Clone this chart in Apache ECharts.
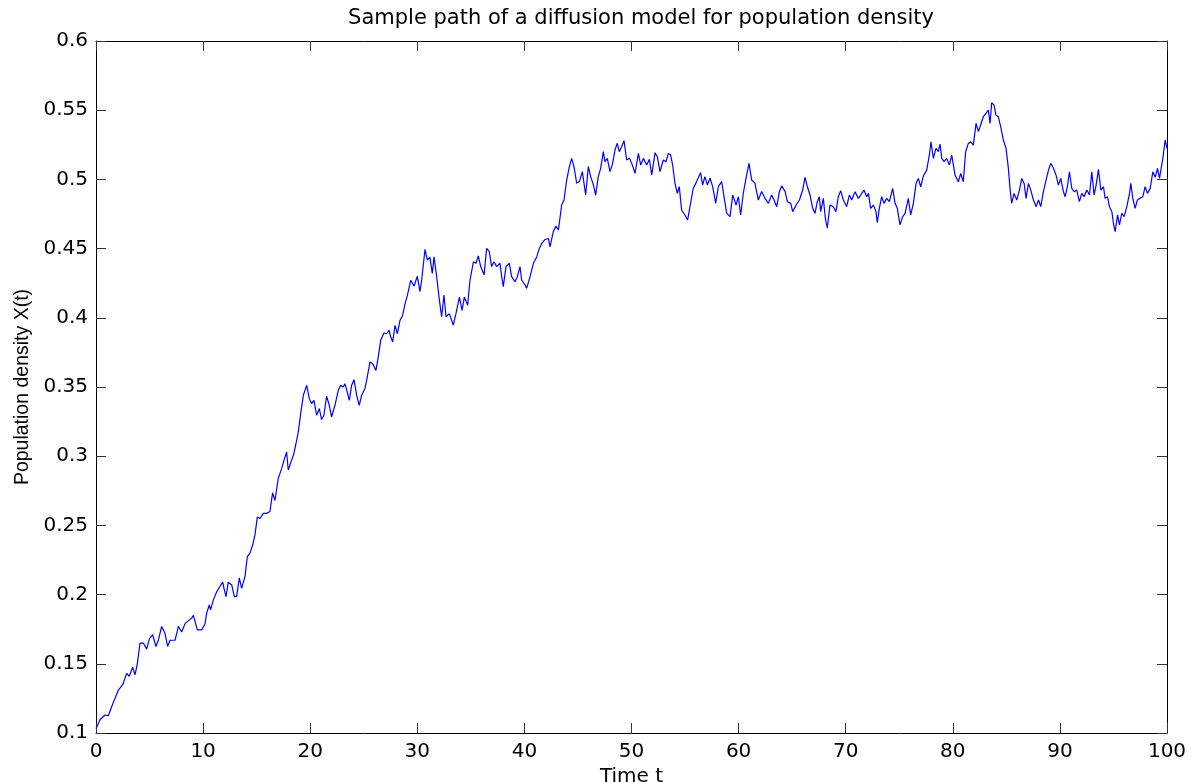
<!DOCTYPE html>
<html><head><meta charset="utf-8">
<script src="https://cdn.jsdelivr.net/npm/echarts/dist/echarts.min.js"></script>
<style>html,body{margin:0;padding:0;background:#fff}#c{width:1191px;height:782px}</style>
</head><body><div id="c"></div>
<script>
const chartTitle = 'Sample path of a diffusion model for population density';
const xName = 'Time t';
const yName = 'Population density X(t)';

const timeT = [
0,0.37,0.84,1.15,1.46,1.77,2.09,2.4,2.55,2.86,3.11,3.42,3.64,3.86,4.11,4.42,4.73,4.98,5.29,5.6,5.82,6.13,6.44,6.69,6.91,7.38,7.69,8.0,8.31,8.62,8.93,9.09,9.34,9.46,9.87,
10.18,10.33,10.58,10.7,10.95,11.27,11.58,11.83,11.95,12.14,12.35,12.67,12.92,13.13,13.38,13.6,13.91,14.13,14.38,14.63,14.84,15.06,15.31,15.62,15.93,16.24,16.49,16.71,17.02,17.33,17.55,17.8,17.95,18.26,18.48,18.67,18.89,19.11,19.36,19.67,19.92,
20.13,20.35,20.6,20.85,21.06,21.28,21.53,21.78,22.0,22.31,22.62,22.84,23.09,23.24,23.46,23.65,23.87,24.09,24.34,24.58,24.8,25.11,25.27,25.58,25.83,26.14,26.36,26.58,26.89,27.14,27.36,27.51,27.7,27.92,28.14,28.38,28.63,28.85,29.07,29.38,29.7,30.0,
30.25,30.41,30.72,30.93,31.18,31.4,31.56,31.81,32.06,32.27,32.49,32.68,32.99,33.36,33.61,33.93,34.18,34.39,34.7,34.92,35.24,35.49,35.7,35.92,36.24,36.47,36.72,36.94,37.16,37.41,37.72,37.88,38.03,38.28,38.59,38.81,39.12,39.34,39.59,39.74,
40.06,40.21,40.53,40.84,41.15,41.4,41.62,41.93,42.24,42.39,42.7,42.95,43.17,43.32,43.48,43.7,43.95,44.2,44.41,44.63,44.88,45.13,45.41,45.72,45.97,46.19,46.44,46.65,46.9,47.12,47.37,47.52,47.74,47.99,48.24,48.46,48.67,48.86,49.08,49.3,49.55,49.8,
50.02,50.33,50.64,50.86,51.11,51.42,51.67,51.89,52.2,52.41,52.66,52.97,53.22,53.44,53.66,53.84,54.06,54.28,54.46,54.68,54.99,55.24,55.46,55.77,56.08,56.45,56.64,56.86,57.08,57.33,57.58,57.86,58.11,58.42,58.64,58.89,59.2,59.45,59.76,59.98,
60.19,60.44,60.69,60.97,61.22,61.53,61.84,62.15,62.46,62.78,63.09,63.31,63.56,63.81,64.03,64.34,64.56,64.87,65.05,65.37,65.68,
65.98,66.2,66.42,66.67,66.92,67.13,67.35,67.54,67.66,67.91,68.1,68.28,68.53,68.84,69.09,69.31,69.53,69.78,
70.09,70.34,70.56,70.87,71.18,71.4,71.71,71.96,72.12,72.33,72.58,72.83,72.95,73.14,73.36,73.58,73.83,74.07,74.39,74.61,74.82,75.07,75.32,75.54,75.85,76.07,76.32,76.57,76.78,77.0,77.25,77.56,77.81,77.96,78.19,78.43,78.65,78.81,78.97,79.18,79.43,79.68,79.9,
80.21,80.52,80.74,80.98,81.2,81.45,81.67,81.92,82.17,82.39,82.6,82.85,83.1,83.32,83.48,83.63,83.85,84.03,84.25,84.47,84.72,84.97,85.19,85.34,85.5,85.72,85.97,86.22,86.44,86.66,86.84,87.06,87.28,87.53,87.78,88.0,88.21,88.46,88.71,88.93,89.15,89.4,89.64,89.86,
90.08,90.33,90.49,90.7,90.89,91.11,91.33,91.57,91.82,92.04,92.26,92.51,92.76,92.98,93.19,93.38,93.6,93.82,94.07,94.22,94.44,94.63,94.85,95.0,95.16,95.38,95.56,95.78,96.0,96.25,96.5,96.62,96.81,97.02,97.24,97.49,97.74,97.96,98.18,98.43,98.68,98.9,99.11,99.3,99.46,99.61,99.83,100
];

const densityX = [
0.103,0.1096,0.113,0.1125,0.119,0.125,0.131,0.134,0.136,0.143,0.141,0.1476,0.142,0.150,0.165,0.165,0.1606,0.168,0.171,0.1625,0.167,0.177,0.172,0.1625,0.167,0.167,0.177,0.173,0.179,0.181,0.183,0.185,0.178,0.1745,0.1745,
0.179,0.1865,0.1925,0.189,0.196,0.202,0.206,0.209,0.2045,0.1985,0.209,0.207,0.1985,0.1985,0.212,0.2045,0.213,0.2275,0.23,0.236,0.243,0.256,0.255,0.2587,0.2587,0.26,0.2735,0.268,0.284,0.291,0.297,0.303,0.290,0.297,0.302,0.309,0.3175,0.3308,0.344,0.3512,0.3416,
0.338,0.3404,0.3296,0.3344,0.3265,0.3296,0.3433,0.3368,0.3284,0.3368,0.3476,0.3512,0.35,0.3524,0.3464,0.3404,0.3512,0.3553,0.344,0.3368,0.344,0.3488,0.3548,0.368,0.3668,0.362,0.372,0.3837,0.389,0.3885,0.391,0.3865,0.3825,0.3945,0.3885,0.398,0.4017,0.41,0.416,0.427,0.423,0.43,
0.4189,0.4273,0.4495,0.4418,0.4437,0.4321,0.444,0.4297,0.4129,0.4008,0.4165,0.4008,0.403,0.3948,0.403,0.415,0.4054,0.415,0.409,0.4273,0.4405,0.4394,0.4447,0.437,0.431,0.4502,0.4478,0.437,0.4405,0.437,0.4394,0.4297,0.4225,0.437,0.4394,0.4297,0.4261,0.4297,0.437,0.4273,
0.4237,0.4213,0.4297,0.4394,0.444,0.4502,0.4537,0.4566,0.4573,0.4513,0.4622,0.4663,0.4634,0.4718,0.4815,0.4851,0.4996,0.5092,0.5152,0.5092,0.4972,0.4984,0.5056,0.4887,0.5092,0.502,0.496,0.4887,0.502,0.508,0.52,0.5128,0.5152,0.5056,0.5116,0.5212,0.5261,0.52,0.5236,0.528,0.514,0.5152,
0.5116,0.5044,0.5188,0.5104,0.5152,0.5104,0.5145,0.5032,0.5193,0.5164,0.5056,0.514,0.5128,0.5188,0.5176,0.5104,0.4972,0.49,0.4948,0.4779,0.4743,0.4707,0.4803,0.4936,0.4984,0.5049,0.496,0.502,0.496,0.5008,0.4948,0.4827,0.4948,0.4984,0.4875,0.4755,0.4731,0.4887,0.4815,0.4875,
0.4743,0.49,0.5008,0.5116,0.4996,0.4972,0.4851,0.4912,0.4863,0.4827,0.4887,0.4851,0.4803,0.4912,0.4953,0.4912,0.4839,0.4827,0.4767,0.4815,0.4851,
0.4923,0.5015,0.4947,0.4887,0.4791,0.4755,0.4839,0.4875,0.4767,0.4863,0.4719,0.4647,0.4815,0.4803,0.4767,0.4875,0.4919,0.4851,
0.4803,0.4887,0.4851,0.4911,0.4863,0.4887,0.4923,0.4875,0.4899,0.4791,0.4815,0.4767,0.4688,0.4791,0.4875,0.4827,0.4863,0.4839,0.4935,0.4827,0.4791,0.4671,0.4731,0.4755,0.4863,0.4743,0.4827,0.4971,0.5007,0.4947,0.5024,0.5067,0.5176,0.5272,0.5152,0.5224,0.52,0.5255,0.5152,0.5128,0.5152,0.5104,0.5176,
0.5031,0.4983,0.5043,0.4983,0.52,0.526,0.5272,0.5248,0.5405,0.5345,0.5393,0.5453,0.5477,0.55,0.5405,0.5554,0.5537,0.5465,0.5453,0.5381,0.5285,0.5224,0.508,0.4935,0.4827,0.4899,0.4851,0.4923,0.5007,0.4971,0.4863,0.4971,0.4923,0.4851,0.4803,0.4851,0.4803,0.4911,0.4995,0.5067,0.5116,0.508,0.5031,0.4959,
0.5007,0.4911,0.4875,0.4947,0.5055,0.4935,0.4911,0.4923,0.4839,0.4899,0.4875,0.4923,0.4887,0.5055,0.4887,0.4959,0.5072,0.4923,0.4947,0.4863,0.4875,0.4803,0.4767,0.4683,0.4623,0.4743,0.4671,0.4755,0.4731,0.4803,0.4899,0.4971,0.4863,0.4791,0.4851,0.4863,0.4875,0.4947,0.4899,0.4935,0.5055,0.5015,0.508,0.5007,0.4995,0.5152,0.5285,0.5224
];

const xTicks = {min: 0, max: 100, step: 10};
const yTicks = {min: 0.1, max: 0.6, step: 0.05};

const pathData = timeT.map((t, i) => [t, densityX[i]]);

const tickFont = 'DejaVu Sans';
const chart = echarts.init(document.getElementById('c'), null, {renderer: 'canvas'});
const axisCommon = {
  type: 'value',
  splitLine: {show: false},
  axisLine: {show: true, onZero: false, lineStyle: {color: '#000', width: 1}},
  axisTick: {show: true, inside: true, length: 10, lineStyle: {color: '#333', width: 1}}
};
chart.setOption({
  animation: false,
  backgroundColor: '#fff',
  title: {
    text: chartTitle,
    left: 636, top: 3, textAlign: 'center',
    textStyle: {fontFamily: tickFont, fontSize: 21, fontWeight: 'normal', color: '#000'}
  },
  grid: {left: 96, right: 24, top: 41, bottom: 49, containLabel: false, outerBoundsMode: 'none'},
  xAxis: [
    Object.assign({}, axisCommon, {
      position: 'bottom', min: xTicks.min, max: xTicks.max, interval: xTicks.step,
      name: xName, nameLocation: 'middle', nameGap: 32,
      nameTextStyle: {fontFamily: tickFont, fontSize: 20, color: '#000'},
      axisLabel: {fontFamily: tickFont, fontSize: 20, color: '#000', margin: 9}
    }),
    Object.assign({}, axisCommon, {
      position: 'top', min: xTicks.min, max: xTicks.max, interval: xTicks.step,
      axisLabel: {show: false}
    })
  ],
  yAxis: [
    Object.assign({}, axisCommon, {
      position: 'left', min: yTicks.min, max: yTicks.max, interval: yTicks.step,
      name: yName, nameLocation: 'middle', nameGap: 62,
      nameTextStyle: {fontFamily: 'Liberation Sans', fontSize: 19.5, color: '#000'},
      axisLabel: {fontFamily: tickFont, fontSize: 20, color: '#000', margin: 8}
    }),
    Object.assign({}, axisCommon, {
      position: 'right', min: yTicks.min, max: yTicks.max, interval: yTicks.step,
      axisLabel: {show: false}
    })
  ],
  series: [{
    type: 'line',
    data: pathData,
    xAxisIndex: 0, yAxisIndex: 0,
    showSymbol: false, symbol: 'none',
    lineStyle: {color: '#0000ff', width: 1.2},
    silent: true
  }]
});
</script>
</body></html>
